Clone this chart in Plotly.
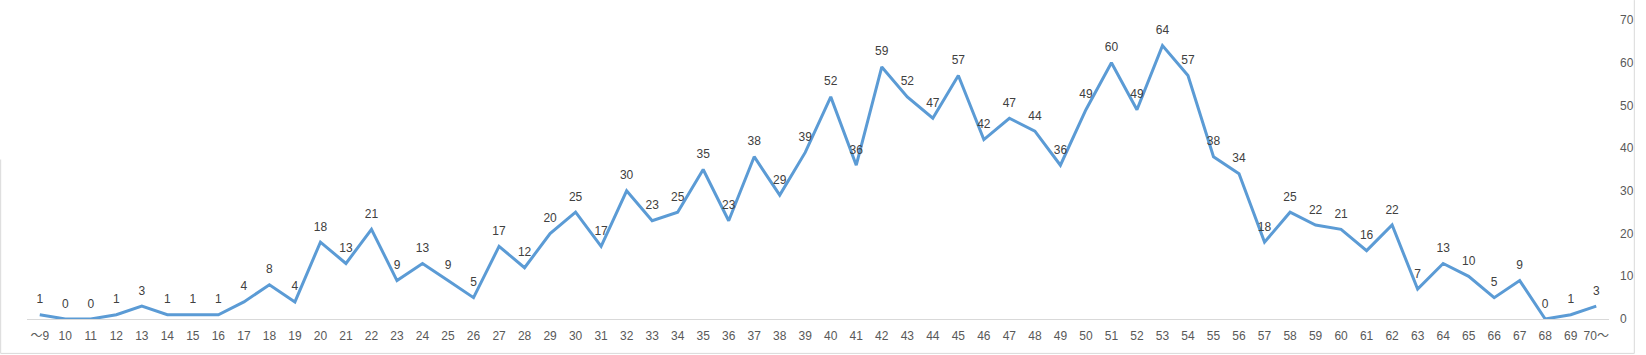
import plotly.graph_objects as go

categories = ["〜9"] + [str(a) for a in range(10, 70)] + ["70〜"]
counts = [1, 0, 0, 1, 3, 1, 1, 1, 4, 8, 4, 18, 13, 21, 9, 13, 9, 5, 17, 12,
          20, 25, 17, 30, 23, 25, 35, 23, 38, 29, 39, 52, 36, 59, 52, 47, 57, 42, 47, 44,
          36, 49, 60, 49, 64, 57, 38, 34, 18, 25, 22, 21, 16, 22, 7, 13, 10, 5, 9, 0,
          1, 3]
y_ticks = [0, 10, 20, 30, 40, 50, 60, 70]

W, H = 1646, 355
L, R, T, B = 27, 1620, 20, 320
FONT = "Liberation Sans, Noto Sans CJK JP"

fig = go.Figure()
fig.add_trace(go.Scatter(
    x=categories, y=counts, mode="lines+markers+text",
    line=dict(color="#5B9BD5", width=3),
    marker=dict(size=12, color="rgba(0,0,0,0)"),
    text=[str(v) for v in counts], textposition="top center",
    textfont=dict(family=FONT, size=12, color="#404040"),
    cliponaxis=False, hoverinfo="x+y", showlegend=False,
))

def px_x(p):
    return (p - L) / (R - L)

def px_y(p):
    return (B - p) / (B - T)

border = dict(color="#D9D9D9", width=1)
shapes = [
    dict(type="line", xref="paper", yref="paper", x0=px_x(1645.5), x1=px_x(1645.5), y0=px_y(0), y1=px_y(354.5), line=border),
    dict(type="line", xref="paper", yref="paper", x0=px_x(0.5), x1=px_x(1645.5), y0=px_y(354.5), y1=px_y(354.5), line=border),
    dict(type="line", xref="paper", yref="paper", x0=px_x(0.5), x1=px_x(0.5), y0=px_y(160), y1=px_y(354.5), line=border),
]

fig.update_layout(
    width=W, height=H,
    margin=dict(l=L, r=W - R, t=T, b=H - B),
    paper_bgcolor="white", plot_bgcolor="white",
    font=dict(family=FONT, size=12, color="#595959"),
    shapes=shapes,
    xaxis=dict(
        type="category", range=[-0.5, len(categories) - 0.5],
        showgrid=False, showline=True, linecolor="#D9D9D9", linewidth=1,
        ticks="", tickfont=dict(family=FONT, size=12, color="#595959"),
        ticklabelstandoff=6, zeroline=False, fixedrange=True,
    ),
    yaxis=dict(
        side="right", range=[0, 70], tickvals=y_ticks,
        showgrid=False, zeroline=False, showline=False, ticks="",
        tickfont=dict(family=FONT, size=12, color="#595959"),
        ticklabelstandoff=10, fixedrange=True,
    ),
)

fig.write_html("out.html")
